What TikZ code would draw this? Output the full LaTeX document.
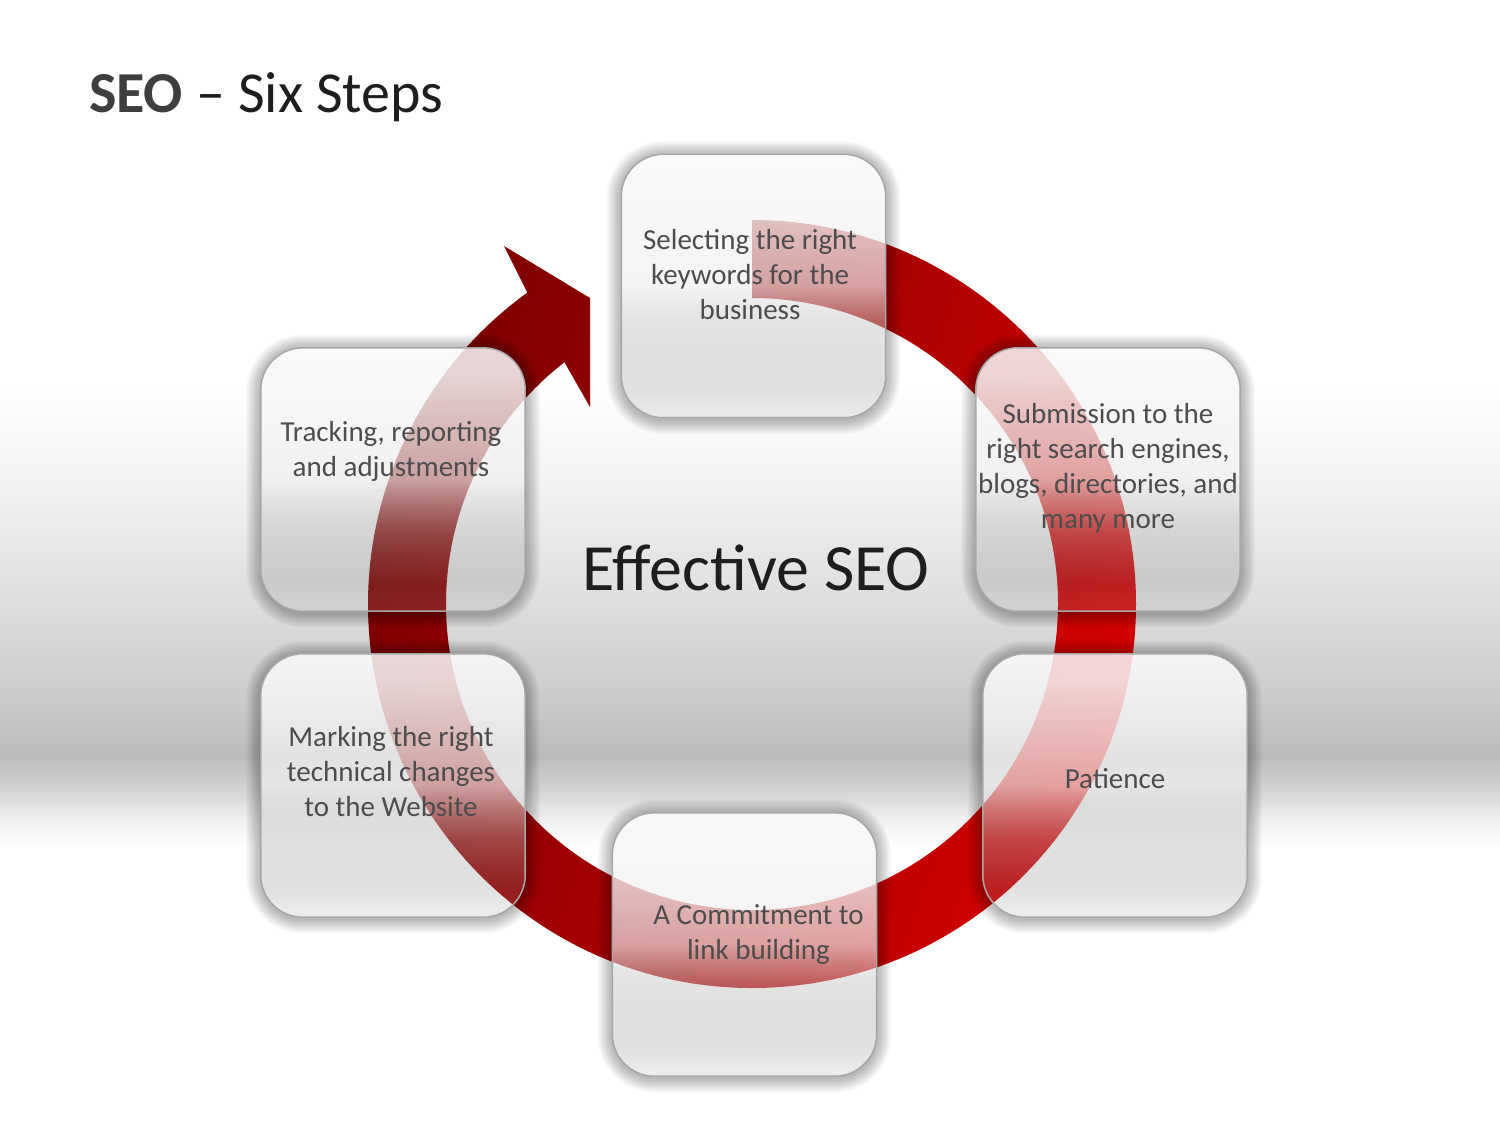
\documentclass[tikz,border=0pt]{standalone}
\usepackage{fontspec}
\setmainfont{Carlito}
\usetikzlibrary{calc,fadings}
\definecolor{ringL}{RGB}{124,0,0}
\definecolor{ringM}{RGB}{160,0,0}
\definecolor{ringR}{RGB}{212,0,0}
\definecolor{txt}{RGB}{77,77,77}
\definecolor{ttl}{RGB}{30,30,30}
\definecolor{ttlb}{RGB}{62,62,62}
\definecolor{boxedge}{RGB}{168,168,168}
\definecolor{bgA}{RGB}{243,243,243}
\definecolor{bgB}{RGB}{222,222,222}
\definecolor{bgC}{RGB}{203,203,203}
\definecolor{bgD}{RGB}{187,187,187}
\definecolor{bgE}{RGB}{212,212,212}
\definecolor{bgF}{RGB}{240,240,240}
\pgfdeclareverticalshading{boxcol}{100bp}{color(0bp)=(black!33); color(25bp)=(black!33); color(30bp)=(black!49); color(40bp)=(black!29); color(50bp)=(black!6); color(70bp)=(black!3); color(75bp)=(black!2); color(100bp)=(black!2)}
\pgfdeclareverticalshading{boxfadeshade}{100bp}{color(0bp)=(white!20!black); color(25bp)=(white!20!black); color(30bp)=(white!23!black); color(40bp)=(white!39!black); color(50bp)=(white!67!black); color(70bp)=(white!86!black); color(75bp)=(white!86!black); color(100bp)=(white!86!black)}
\begin{tikzfadingfrompicture}[name=boxfade]
  \shade[shading=boxfadeshade] (-25bp,-25bp) rectangle (25bp,25bp);
\end{tikzfadingfrompicture}
\pgfdeclarelayer{bglayer}
\pgfdeclarelayer{fxlayer}
\pgfsetlayers{bglayer,fxlayer,main}
\begin{document}
\begin{tikzpicture}[x=1pt,y=1pt,
  boxnode/.style={rectangle, minimum width=264pt, minimum height=263pt, inner sep=0pt, draw=none},
  boxtext/.style={text=txt, font=\fontsize{29}{35}\selectfont, align=center, inner sep=0pt},
  roundbox/.style={rounded corners=42pt}
]
% boxes (geometry holders)
\node[boxnode] (b1) at (753.5,-286) {};
\node[boxnode] (b2) at (1108,-479.5) {};
\node[boxnode] (b3) at (1115,-785.5) {};
\node[boxnode] (b4) at (744.5,-944.5) {};
\node[boxnode] (b5) at (393,-785.5) {};
\node[boxnode] (b6) at (393,-479.5) {};

% texts
\node[anchor=base west, inner sep=0pt, font=\fontsize{58}{70}\selectfont] (title) at (89,-112)
  {\textcolor{ttlb}{\textbf{SEO}}\textcolor{ttl}{\ –\ Six Steps}};
\node[anchor=base, inner sep=0pt, text=ttl, font=\fontsize{66}{78}\selectfont] (centre) at (756,-590) {Effective SEO};
\node[boxtext] (t1) at (750,-275) {Selecting the right\\keywords for the\\business};
\node[boxtext] (t2) at (1108,-468) {Submission to the\\right search engines,\\blogs, directories, and\\many more};
\node[boxtext] (t3) at (1115,-778.5) {Patience};
\node[boxtext] (t4) at (758.5,-934.5) {A Commitment to\\link building};
\node[boxtext] (t5) at (391,-771.5) {Marking the right\\technical changes\\to the Website};
\node[boxtext] (t6) at (391,-451.5) {Tracking, reporting\\and adjustments};

\begin{pgfonlayer}{bglayer}
  \fill[white] (0,0) rectangle (1500,-1125);
  \shade[top color=white, bottom color=bgA] (0,-383) rectangle (1500,-480.5);
  \shade[top color=bgA, bottom color=bgB] (0,-480) rectangle (1500,-600.5);
  \shade[top color=bgB, bottom color=bgC] (0,-600) rectangle (1500,-700.5);
  \shade[top color=bgC, bottom color=bgD] (0,-700) rectangle (1500,-755.5);
  \shade[top color=bgD, bottom color=bgE] (0,-755) rectangle (1500,-790.5);
  \shade[top color=bgE, bottom color=bgF] (0,-790) rectangle (1500,-820.5);
  \shade[top color=bgF, bottom color=white] (0,-820) rectangle (1500,-848);
  % circular arrow
  \shade[left color=ringL, middle color=ringM, right color=ringR, shading angle=70]
    ([shift={(752,-604)}]90:384) arc[start angle=90, end angle=-234.2, radius=384]
    -- (504,-246) -- (590,-298) -- (590,-407)
    -- ([shift={(752,-604)}]-232.2:306) arc[start angle=-232.2, end angle=90, radius=306]
    -- cycle;
\end{pgfonlayer}

\begin{pgfonlayer}{fxlayer}
  \foreach \b in {b1,b2,b3,b4,b5,b6}{
    \foreach \e in {1,2,...,15}{
      \fill[black, opacity=0.02, even odd rule]
        [rounded corners=42pt+\e pt] ($(\b.south west)+(-\e,-\e-1.5)$) rectangle ($(\b.north east)+(\e,\e-1.5)$)
        [rounded corners=42pt] (\b.south west) rectangle (\b.north east);
    }
    \shade[shading=boxcol, path fading=boxfade, roundbox] (\b.south west) rectangle (\b.north east);
    \draw[boxedge, line width=1.5pt, roundbox] (\b.south west) rectangle (\b.north east);
  }
\end{pgfonlayer}
\end{tikzpicture}
\end{document}
